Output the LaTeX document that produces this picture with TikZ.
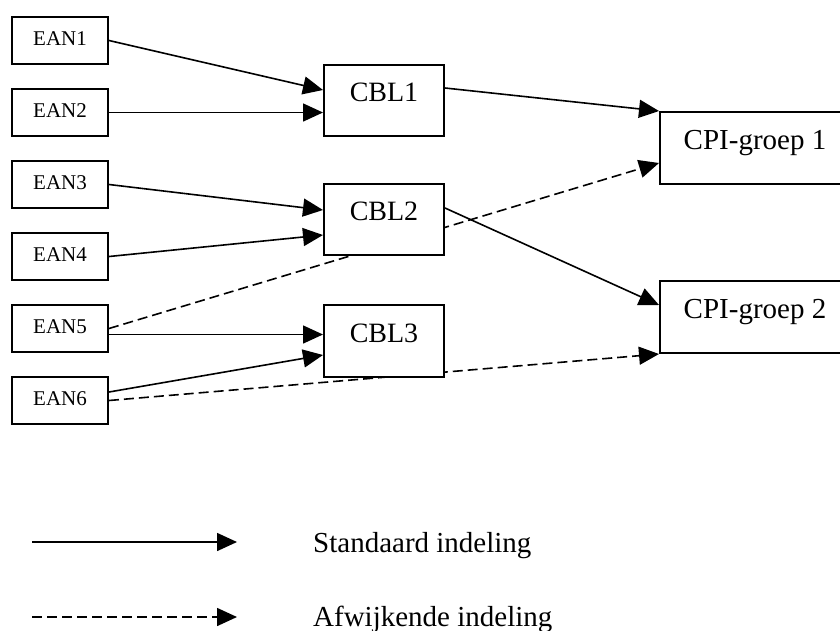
\documentclass[tikz,border=0pt]{standalone}
\usepackage{fontspec}
\setmainfont{Liberation Serif}
\usetikzlibrary{arrows.meta}
\usetikzlibrary{backgrounds}

\begin{document}
\begin{tikzpicture}[x=1pt,y=-1pt,
    eanbox/.style={draw, fill=white, line width=2pt, inner sep=0pt,
        minimum width=96pt, minimum height=47pt,
        font=\fontsize{21}{25}\selectfont, text height=14pt, text depth=4pt},
    cblbox/.style={draw, fill=white, line width=2pt, inner sep=0pt,
        minimum width=120pt, minimum height=71.5pt,
        font=\fontsize{28}{32}\selectfont, text height=18.5pt, text depth=16pt},
    cpibox/.style={draw, fill=white, line width=2pt, inner sep=0pt,
        minimum width=190pt, minimum height=72pt,
        font=\fontsize{29}{33}\selectfont, text height=19pt, text depth=16pt},
    standaard/.style={line width=1.6pt, -{Triangle[length=20pt,width=18pt]}},
    afwijkend/.style={standaard, dash pattern=on 10pt off 5pt},
    legendtext/.style={anchor=base west, inner sep=0pt, font=\fontsize{29}{33}\selectfont}]
        \newcommand{\figeancolx}{60}
        \newcommand{\figcblcolx}{384}
        \newcommand{\figcpicolx}{755}
        \useasboundingbox (0,0) rectangle (840,630);
        \clip (0,0) rectangle (840,630);
        % left column
        \foreach \i in {1,...,6}
            \node[eanbox] (ean\i) at (\figeancolx,-31.5+72*\i) {EAN\i};
        % middle column
        \node[cblbox] (cbl1) at (\figcblcolx,100.5) {CBL1};
        \node[cblbox] (cbl2) at (\figcblcolx,219.5) {CBL2};
        \node[cblbox] (cbl3) at (\figcblcolx,341) {CBL3};
        % right column
        \node[cpibox] (cpi1) at (\figcpicolx,148) {CPI-groep 1};
        \node[cpibox] (cpi2) at (\figcpicolx,317) {CPI-groep 2};
        % connectors
        \begin{pgfonlayer}{background}
        \draw[standaard] (ean1.east) -- ([yshift=10.5pt]cbl1.west);
        \draw[standaard] (ean2.east) -- (ean2.east -| cbl1.west);
        \draw[standaard] (ean3.east) -- ([yshift=9.5pt]cbl2.west);
        \draw[standaard] (ean4.east) -- ([yshift=-15.5pt]cbl2.west);
        \draw[standaard] ([yshift=-6pt]ean5.east) -- ([yshift=-6pt]ean5.east -| cbl3.west);
        \draw[standaard] ([yshift=8.5pt]ean6.east) -- ([yshift=-14pt]cbl3.west);
        \draw[afwijkend] (ean5.east) -- ([yshift=-15pt]cpi1.west);
        \draw[afwijkend] (ean6.east) -- (cpi2.south west);
        \draw[standaard] ([yshift=12.5pt]cbl1.east) -- (cpi1.north west);
        \draw[standaard] ([yshift=11.5pt]cbl2.east) -- ([yshift=12pt]cpi2.west);
        \end{pgfonlayer}
        % legend
        \coordinate (legstdstart) at (32,542);
        \coordinate (legstdend) at (237,542);
        \coordinate (legafwstart) at (32,617);
        \coordinate (legafwend) at (237,617);
        \draw[standaard] (legstdstart) -- (legstdend);
        \draw[afwijkend] (legafwstart) -- (legafwend);
        \node[legendtext] (legstd) at (313,552) {Standaard indeling};
        \node[legendtext] (legafw) at (313,626) {Afwijkende indeling};
    \end{tikzpicture}
\end{document}
